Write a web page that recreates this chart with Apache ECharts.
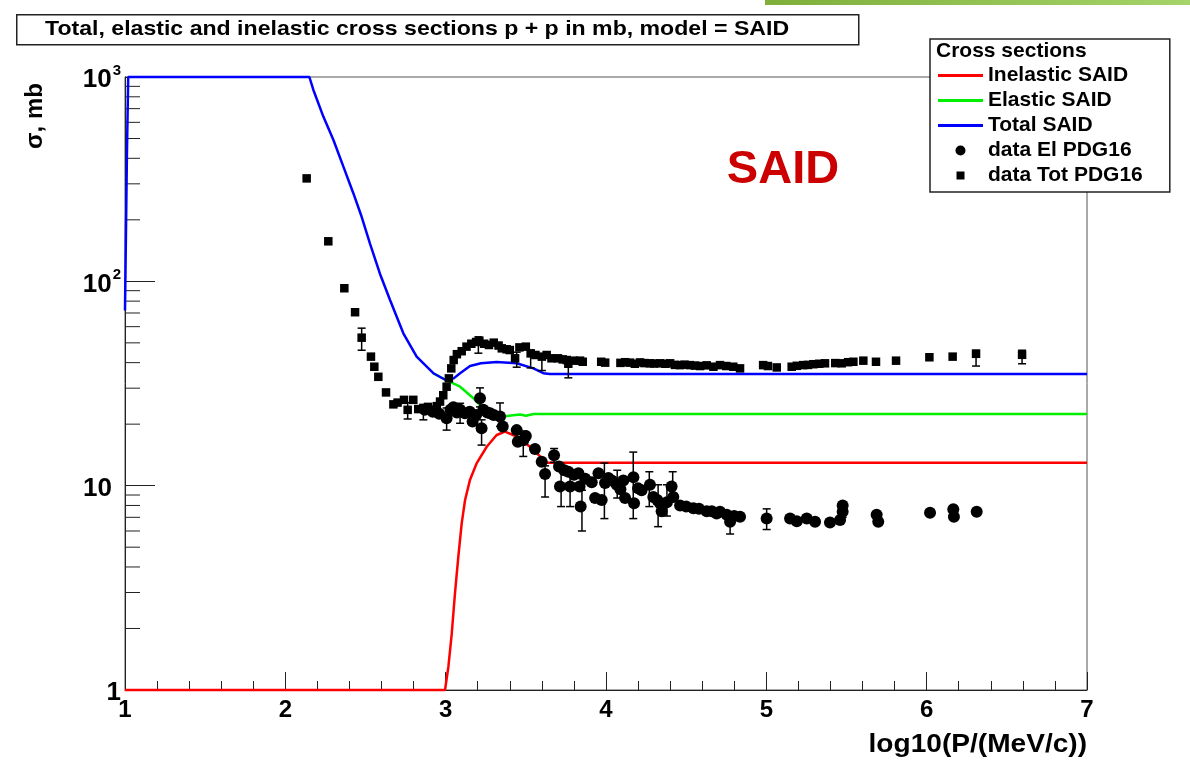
<!DOCTYPE html>
<html>
<head>
<meta charset="utf-8">
<script src="https://cdn.jsdelivr.net/npm/echarts@6/dist/echarts.min.js"></script>
<style>
html,body{margin:0;padding:0;background:#fff;}
#c{width:1190px;height:766px;}
</style>
</head>
<body>
<div id="c"></div>
<script>
// ---- Data ----
const xTicks = [1, 2, 3, 4, 5, 6, 7];
const yTickLabels = {1: '1', 10: '10', 100: '10^2', 1000: '10^3'};
const yMinorTicks = [2,3,4,5,6,7,8,9,20,30,40,50,60,70,80,90,200,300,400,500,600,700,800,900];

const inelasticSAID = [[1,1],[2.996,1],[3.017,1.30],[3.038,1.89],[3.058,2.97],[3.079,4.49],[3.1,6.54],[3.121,8.51],[3.152,10.7],[3.194,12.9],[3.256,15.5],[3.318,17.7],[3.37,18.4],[3.443,17.4],[3.526,15.5],[3.589,13.9],[3.63,12.95],[7,12.95]];

const elasticSAID = [[2.923,35.5],[3.0,32.9],[3.09,30.5],[3.173,26.8],[3.214,24.8],[3.28,23.0],[3.36,21.8],[3.42,22.1],[3.464,22.3],[3.5,22.0],[3.55,22.4],[3.6,22.4],[7,22.4]];

const totalSAID = [[1.0,72],[1.005,150],[1.012,420],[1.02,1000],[2.15,1000],[2.175,864],[2.237,640],[2.30,492],[2.362,364],[2.424,270],[2.476,207],[2.528,153],[2.59,109],[2.653,81],[2.736,55.7],[2.819,42.8],[2.923,35.5],[3.0,32.9],[3.05,33.5],[3.09,35.5],[3.152,38.5],[3.22,39.7],[3.318,40.3],[3.443,39.7],[3.547,37.5],[3.609,35.5],[3.65,35.2],[7,35.2]];

const dataTot = [[2.133,319],[2.268,157],[2.368,92.5],[2.435,70.6],[2.476,53],[2.534,42.8],[2.555,38.2],[2.58,34.1],[2.628,28.6],[2.674,25],[2.70,25.5],[2.74,26.3],[2.763,23.5],[2.798,26.3],[2.829,23.7],[2.861,23.9],[2.89,24.3],[2.923,23.5],[2.945,24.5],[2.965,25.8],[2.985,27.7],[3.006,30.5],[3.02,33.5],[3.035,37.5],[3.05,41.2],[3.07,44],[3.1,45.5],[3.13,47.9],[3.16,49.5],[3.19,50.5],[3.21,51.2],[3.24,49.5],[3.27,48.8],[3.3,50.1],[3.33,48.5],[3.35,47],[3.38,46.5],[3.40,46.1],[3.433,42],[3.46,47.5],[3.50,47.9],[3.53,44.4],[3.56,43.6],[3.6,42.8],[3.63,43.6],[3.66,42],[3.70,42],[3.73,41.5],[3.755,41.2],[3.765,39.5],[3.80,40.9],[3.838,40.9],[3.855,40.4],[3.97,40.4],[3.995,40.0],[4.09,39.9],[4.12,40.2],[4.15,40],[4.18,39.5],[4.212,40.1],[4.24,39.8],[4.274,39.7],[4.30,39.6],[4.337,39.7],[4.37,39.5],[4.4,39.7],[4.43,39.0],[4.462,38.9],[4.49,39.1],[4.524,38.9],[4.555,38.7],[4.587,38.5],[4.628,38.8],[4.67,38.2],[4.711,38.9],[4.75,38.5],[4.794,38.2],[4.836,37.5],[4.98,38.9],[5.01,38.5],[5.065,37.9],[5.158,38.2],[5.19,38.6],[5.23,38.9],[5.26,39.0],[5.293,39.3],[5.33,39.5],[5.366,39.7],[5.43,39.8],[5.47,39.7],[5.51,40.2],[5.543,40.4],[5.605,40.9],[5.684,40.4],[5.809,40.9],[6.017,42.5],[6.162,42.8],[6.308,44.2],[6.595,43.7]];

const dataTotErr = [[2.476,46,59],[2.763,21.2,25.5],[2.861,21.0,25],[3.204,44.5,53.5],[3.443,38,45],[3.53,37.7,46],[3.6,36.6,44],[3.765,33.7,41],[6.308,38.5,46],[6.595,39.5,46]];

const dataEl = [[2.87,23.5],[2.92,23],[2.96,22.5],[3.006,21.4],[3.03,23.5],[3.048,24.2],[3.07,22.8],[3.09,23.5],[3.12,22.6],[3.15,23],[3.168,20.6],[3.19,22.2],[3.214,26.8],[3.224,19.1],[3.235,23.5],[3.26,22.8],[3.277,22.6],[3.30,22.2],[3.339,21.8],[3.356,19.5],[3.443,18.7],[3.45,16.4],[3.484,16.7],[3.50,17.5],[3.557,15.1],[3.599,13.1],[3.62,11.4],[3.676,14.1],[3.707,12.4],[3.713,9.9],[3.74,11.9],[3.765,11.7],[3.776,9.9],[3.80,11.3],[3.828,11.5],[3.835,9.9],[3.842,7.9],[3.87,10.8],[3.911,10.4],[3.932,8.7],[3.953,11.5],[3.973,8.5],[3.994,10.3],[4.015,10.9],[4.036,10.6],[4.067,10.1],[4.09,9.6],[4.108,10.6],[4.119,8.7],[4.171,11.0],[4.175,8.2],[4.20,9.7],[4.222,9.5],[4.274,10.1],[4.295,8.8],[4.32,8.5],[4.337,8.2],[4.347,7.5],[4.38,8.3],[4.409,9.9],[4.42,8.8],[4.462,8.0],[4.50,7.9],[4.545,7.75],[4.58,7.7],[4.628,7.5],[4.66,7.5],[4.69,7.3],[4.711,7.45],[4.753,7.2],[4.774,6.66],[4.80,7.1],[4.836,7.05],[5.002,6.9],[5.148,6.9],[5.19,6.7],[5.252,6.9],[5.304,6.66],[5.397,6.6],[5.46,6.8],[5.476,7.45],[5.476,8.0],[5.688,7.2],[5.698,6.66],[6.021,7.37],[6.166,7.66],[6.17,7.05],[6.312,7.45]];

const dataElErr = [[3.006,18.7,24],[3.09,20.2,25.3],[3.214,24.3,30.1],[3.224,15.8,21],[3.339,19.5,25.4],[3.484,13.9,18.5],[3.62,8.8,12.5],[3.676,13,15.2],[3.72,7.9,11.9],[3.776,7.9,11.2],[3.85,6.0,9.5],[3.99,6.9,12.9],[4.07,8.7,11.9],[4.17,6.9,14.6],[4.27,7.9,11.7],[4.325,6.3,10.1],[4.38,7.1,10.1],[4.416,8.6,11.7],[4.47,7.7,8.3],[4.774,5.8,7.2],[5.002,6.1,7.7],[5.476,7.0,8.3],[5.698,6.4,7.3]];

// ---- Chart ----
const FONT = '"Liberation Sans", Arial, Helvetica, sans-serif';
const chart = echarts.init(document.getElementById('c'), null, {renderer: 'canvas'});

function errItem(params, api) {
  const x = api.value(0), lo = api.value(1), hi = api.value(2);
  const a = api.coord([x, lo]), b = api.coord([x, hi]);
  const c = 4;
  const st = {stroke: '#000', lineWidth: 1.5};
  return {type: 'group', children: [
    {type: 'line', shape: {x1: a[0], y1: a[1], x2: b[0], y2: b[1]}, style: st},
    {type: 'line', shape: {x1: a[0]-c, y1: a[1], x2: a[0]+c, y2: a[1]}, style: st},
    {type: 'line', shape: {x1: b[0]-c, y1: b[1], x2: b[0]+c, y2: b[1]}, style: st}
  ]};
}
function minorTickItem(params, api) {
  const p = api.coord([xTicks[0], api.value(1)]);
  return {type: 'line', shape: {x1: p[0], y1: p[1], x2: p[0] + 15, y2: p[1]}, style: {stroke: '#222', lineWidth: 1}};
}

const LINE_ICON = 'path://M0,0H45V3H0Z';
const option = {
  backgroundColor: '#fff',
  animation: false,
  grid: {left: 125, right: 103, top: 77, bottom: 76, show: true, borderColor: '#555', borderWidth: 1, backgroundColor: 'transparent'},
  xAxis: {
    type: 'value', min: xTicks[0], max: xTicks[xTicks.length-1], interval: 1,
    axisLine: {show: true, lineStyle: {color: '#222', width: 1}},
    axisTick: {show: true, inside: true, length: 18, lineStyle: {color: '#222', width: 1}},
    minorTick: {show: true, splitNumber: 5, length: 9, lineStyle: {color: '#222', width: 1}},
    splitLine: {show: false},
    axisLabel: {color: '#000', fontSize: 24, fontWeight: 'bold', fontFamily: FONT, margin: 8}
  },
  yAxis: {
    type: 'log', logBase: 10, min: 1, max: 1000,
    axisLine: {show: true, lineStyle: {color: '#222', width: 1}},
    axisTick: {show: true, inside: true, length: 30, lineStyle: {color: '#222', width: 1}},
    minorTick: {show: false},
    splitLine: {show: false},
    axisLabel: {
      color: '#000', margin: 4,
      formatter: function (v) {
        const s = yTickLabels[Math.round(v)] || String(v);
        const parts = s.split('^');
        if (parts.length > 1) return '{b|' + parts[0] + '}{s|' + parts[1] + '}';
        if (s.length > 1) return '{b|' + s + '}{p| }';
        return '{b|' + s + '}';
      },
      rich: {
        b: {fontSize: 26, fontWeight: 'bold', fontFamily: FONT, color: '#000', lineHeight: 28, padding: [6, 0, 0, 0]},
        s: {fontSize: 15, fontWeight: 'bold', fontFamily: FONT, color: '#000', verticalAlign: 'top', lineHeight: 15, padding: [0, 0, 13, 1]},
        p: {fontSize: 10, width: 9}
      }
    }
  },
  legend: {
    left: 930, top: 39, orient: 'vertical',
    itemWidth: 45, itemHeight: 11, itemGap: 4,
    padding: [26, 27, 6, 8],
    backgroundColor: '#fff', borderColor: '#222', borderWidth: 1.5, borderRadius: 0,
    textStyle: {color: '#000', fontSize: 21, fontWeight: 'bold', fontFamily: FONT, lineHeight: 21},
    selectedMode: false, z: 10,
    data: [
      {name: 'Inelastic SAID', icon: LINE_ICON},
      {name: 'Elastic SAID', icon: LINE_ICON},
      {name: 'Total SAID', icon: LINE_ICON},
      {name: 'data El PDG16', icon: 'path://M-0.5,0M0,5.5a5,5 0 1,0 10,0a5,5 0 1,0 -10,0M10.5,11'},
      {name: 'data Tot PDG16', icon: 'path://M-1.5,-1.5M0,0H8V8H0ZM9.5,9.5'}
    ]
  },
  graphic: [
    {type: 'rect', left: 765, top: 0, z: 0, shape: {width: 425, height: 5},
      style: {fill: new echarts.graphic.LinearGradient(0, 0, 1, 0, [{offset: 0, color: '#7fae3a'}, {offset: 1, color: '#a6d36a'}])}},
    {type: 'rect', left: 16, top: 14, z: 20, shape: {width: 842, height: 30}, style: {fill: '#fff', stroke: '#222', lineWidth: 1.5}},
    {type: 'text', x: 45, y: 29, scaleX: 1.1, z: 21, style: {text: 'Total, elastic and inelastic cross sections p + p in mb, model = SAID', x: 0, y: 0, verticalAlign: 'middle', font: 'bold 21px ' + FONT, fill: '#000'}},
    {type: 'text', x: 936, y: 51, z: 30, style: {text: 'Cross sections', x: 0, y: 0, verticalAlign: 'middle', font: 'bold 21px ' + FONT, fill: '#000'}},
    {type: 'text', x: 783, y: 170, z: 20, style: {text: 'SAID', x: 0, y: 0, align: 'center', verticalAlign: 'middle', font: 'bold 47px ' + FONT, fill: '#cc0000'}},
    {type: 'text', x: 1087, y: 745, scaleX: 1.08, originX: 0, z: 20, style: {text: 'log10(P/(MeV/c))', x: 0, y: 0, align: 'right', verticalAlign: 'middle', font: 'bold 26px ' + FONT, fill: '#000'}},
    {type: 'text', x: 35, y: 116, rotation: Math.PI / 2, z: 20, style: {text: 'σ, mb', x: 0, y: 0, align: 'center', verticalAlign: 'middle', font: 'bold 24px ' + FONT, fill: '#000'}}
  ],
  series: [
    {type: 'custom', name: 'yMinor', renderItem: minorTickItem, data: yMinorTicks.map(v => [xTicks[0], v]), clip: false, silent: true, z: 1},
    {type: 'line', name: 'Inelastic SAID', data: inelasticSAID, symbol: 'none', clip: false, color: '#ff0000', lineStyle: {color: '#ff0000', width: 2.5}, z: 3},
    {type: 'line', name: 'Elastic SAID', data: elasticSAID, symbol: 'none', clip: false, color: '#00ee00', lineStyle: {color: '#00ee00', width: 2.5}, z: 3},
    {type: 'line', name: 'Total SAID', data: totalSAID, symbol: 'none', clip: false, color: '#0000ff', lineStyle: {color: '#0000ff', width: 2.5}, z: 3},
    {type: 'custom', name: 'elErr', renderItem: errItem, data: dataElErr, encode: {x: 0, y: [1, 2]}, silent: true, z: 4},
    {type: 'custom', name: 'totErr', renderItem: errItem, data: dataTotErr, encode: {x: 0, y: [1, 2]}, silent: true, z: 4},
    {type: 'scatter', name: 'data El PDG16', data: dataEl, symbol: 'circle', symbolSize: 12, itemStyle: {color: '#000', opacity: 1}, z: 5},
    {type: 'scatter', name: 'data Tot PDG16', data: dataTot, symbol: 'rect', symbolSize: 8.5, itemStyle: {color: '#000', opacity: 1}, z: 5}
  ]
};
chart.setOption(option);
</script>
</body>
</html>
